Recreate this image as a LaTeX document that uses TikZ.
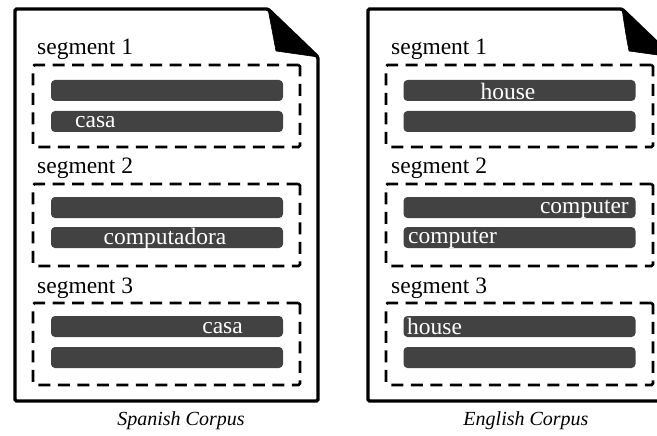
\documentclass[tikz,border=0pt]{standalone}
\usepackage{fontspec}
\setmainfont{Liberation Serif}
\definecolor{bargray}{HTML}{424242}
\begin{document}
\begin{tikzpicture}[x=1pt,y=-1pt,
  doc/.style={draw=black,line width=3.4pt,fill=white,rounded corners=1.5pt},
  fold/.style={fill=black,draw=black,line width=0.6pt,line join=round},
  segbox/.style={draw=black,dashed,line width=2.6pt,dash pattern=on 12pt off 7.5pt,
    minimum width=267pt,minimum height=82pt,inner sep=0pt,rounded corners=1.5pt},
  bar/.style={fill=bargray,rounded corners=4pt,minimum width=232pt,minimum height=21pt,inner sep=0pt},
  segtxt/.style={font=\fontsize{23.5}{28}\selectfont,inner sep=0pt,anchor=base west},
  bartxt/.style={font=\fontsize{23.5}{28}\selectfont,text=white,inner sep=0pt},
  captxt/.style={font=\fontsize{20}{24}\selectfont\itshape,inner sep=0pt,anchor=base}]
\clip (0,0) rectangle (657,436);
\fill[white] (0,0) rectangle (657,436);
% documents
\draw[doc] (15,9) -- (268,9) -- (318,57) -- (318,401) -- (15,401) -- cycle;
\draw[fold] (268,9) -- (318,57) -- (276,51) .. controls (273,35) .. (268,9) -- cycle;
\draw[doc] (368,9) -- (622,9) -- (672,57) -- (672,401) -- (368,401) -- cycle;
\draw[fold] (622,9) -- (672,57) -- (629,51) .. controls (626,35) .. (622,9) -- cycle;
% left document
\node[segtxt] (ls1) at (37,55) {segment 1};
\node[segbox] (lb1) at (166.5,106) {};
\node[bar] (lb1a) at (167,90.5) {};
\node[bar] (lb1b) at (167,121.5) {};
\node[bartxt,anchor=base west] (lt1) at (75,128) {casa};
\node[segtxt] (ls2) at (37,174) {segment 2};
\node[segbox] (lb2) at (166.5,225) {};
\node[bar] (lb2a) at (167,207.5) {};
\node[bar] (lb2b) at (167,237.5) {};
\node[bartxt,anchor=base] (lt2) at (165,244) {computadora};
\node[segtxt] (ls3) at (37,293) {segment 3};
\node[segbox] (lb3) at (166.5,344) {};
\node[bar] (lb3a) at (167,326.5) {};
\node[bar] (lb3b) at (167,357.5) {};
\node[bartxt,anchor=base east] (lt3) at (243,333) {casa};
% right document
\node[segtxt] (rs1) at (391,55) {segment 1};
\node[segbox] (rb1) at (519.5,106) {};
\node[bar] (rb1a) at (519.5,90.5) {};
\node[bar] (rb1b) at (519.5,121.5) {};
\node[bartxt,anchor=base] (rt1) at (508,99.5) {house};
\node[segtxt] (rs2) at (391,174) {segment 2};
\node[segbox] (rb2) at (519.5,225) {};
\node[bar] (rb2a) at (519.5,207.5) {};
\node[bar] (rb2b) at (519.5,237.5) {};
\node[bartxt,anchor=base east] (rt2) at (629,213) {computer};
\node[bartxt,anchor=base west] (rt3) at (408,243.5) {computer};
\node[segtxt] (rs3) at (391,293) {segment 3};
\node[segbox] (rb3) at (519.5,344) {};
\node[bar] (rb3a) at (519.5,326.5) {};
\node[bar] (rb3b) at (519.5,357.5) {};
\node[bartxt,anchor=base west] (rt4) at (407,334.5) {house};
% captions
\node[captxt] (cl) at (181,425) {Spanish Corpus};
\node[captxt] (cr) at (526,425) {English Corpus};
\end{tikzpicture}
\end{document}
